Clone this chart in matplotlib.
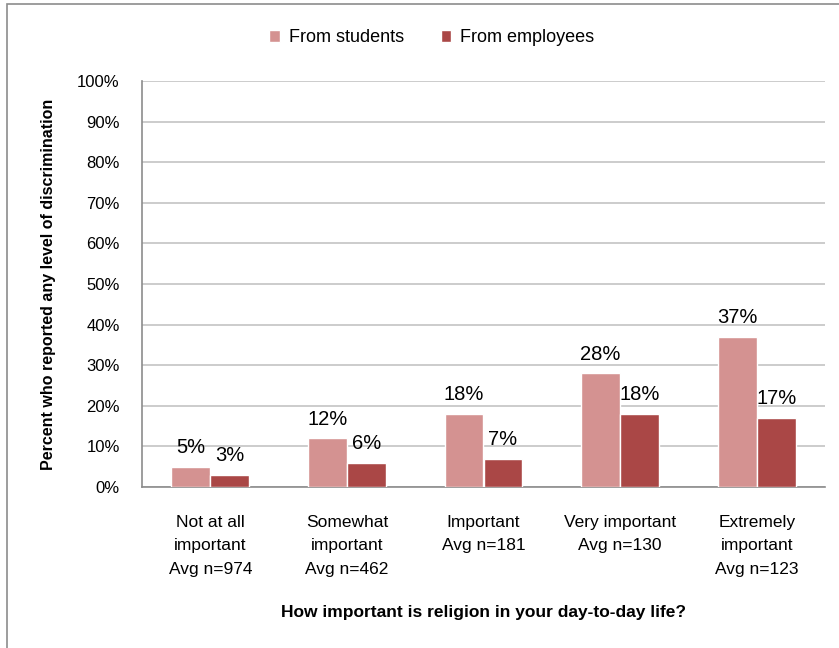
import matplotlib.pyplot as plt
import numpy as np
from matplotlib.patches import Rectangle

categories = ['Not at all\nimportant\nAvg n=974', 'Somewhat\nimportant\nAvg n=462',
              'Important\nAvg n=181', 'Very important\nAvg n=130',
              'Extremely\nimportant\nAvg n=123']
from_students = [5, 12, 18, 28, 37]
from_employees = [3, 6, 7, 18, 17]
# labels as printed; bars drawn from the rounded values above
student_labels = ['5%', '12%', '18%', '28%', '37%']
employee_labels = ['3%', '6%', '7%', '18%', '17%']

c_students = '#D49291'
c_employees = '#AA4746'

plt.rcParams['font.family'] = ['Liberation Sans', 'DejaVu Sans']

fig = plt.figure(figsize=(8.39, 6.48), dpi=100)
ax = fig.add_axes([142 / 839, 1 - 487 / 648, (825 - 142) / 839, (487 - 81) / 648])

# outer chart border
fig.patches.append(Rectangle((7 / 839, -0.01), 1.02, 1 - 4 / 648 + 0.01,
                             transform=fig.transFigure, fill=False,
                             edgecolor='#8c8c8c', linewidth=1.2))

x = np.arange(len(categories))
w = 0.285
b1 = ax.bar(x - w / 2, from_students, w, color=c_students, edgecolor='white',
            linewidth=1, label='From students', zorder=3)
b2 = ax.bar(x + w / 2, from_employees, w, color=c_employees, edgecolor='white',
            linewidth=1, label='From employees', zorder=3)

for bars, labels in [(b1, student_labels), (b2, employee_labels)]:
    for rect, lab in zip(bars, labels):
        ax.annotate(lab, (rect.get_x() + rect.get_width() / 2, rect.get_height()),
                    xytext=(0, 7), textcoords='offset points', ha='center',
                    va='bottom', fontsize=14.5)

ax.set_xlim(-0.5, len(categories) - 0.5)
ax.set_ylim(0, 100)
ax.set_yticks(np.arange(0, 101, 10))
ax.set_yticklabels([f'{v}%' for v in range(0, 101, 10)])
ax.set_xticks(x)
ax.set_xticklabels(categories, linespacing=1.72)
ax.tick_params(axis='y', length=0, pad=16, labelsize=12)
ax.tick_params(axis='x', length=0, pad=20, labelsize=12.5)

ax.grid(axis='y', color='#c8c8c8', linewidth=1.3, zorder=0)
for s in ['top', 'right']:
    ax.spines[s].set_visible(False)
for s in ['left', 'bottom']:
    ax.spines[s].set_color('#8c8c8c')
    ax.spines[s].set_linewidth(1.2)

ax.set_ylabel('Percent who reported any level of discrimination', fontsize=11.5,
              fontweight='bold', labelpad=15)
ax.set_xlabel('How important is religion in your day-to-day life?', fontsize=12.5,
              fontweight='bold', labelpad=20)

fig.legend(handles=[b1, b2], loc='center', bbox_to_anchor=(432 / 839, 1 - 38 / 648),
           ncol=2, frameon=False, fontsize=13, handlelength=0.6, handleheight=0.6,
           columnspacing=2.0, handletextpad=0.5)

fig.savefig('out.png', dpi=100)
